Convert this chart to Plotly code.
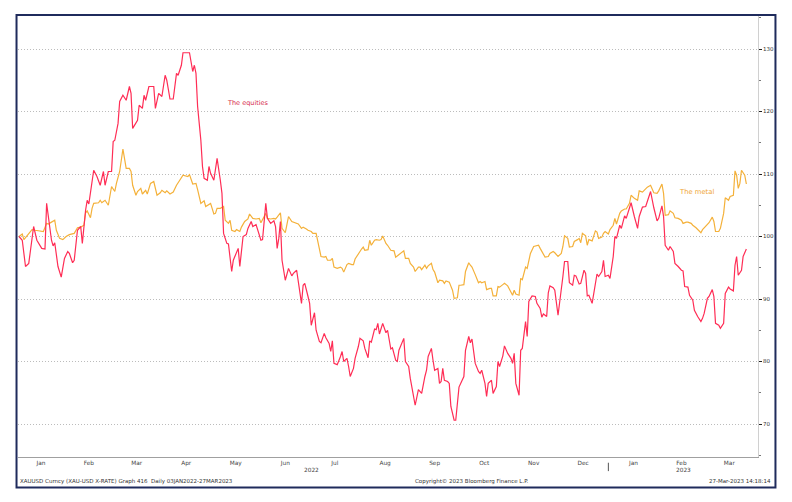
import plotly.graph_objects as go

# ---------------- data (rebased to 100 on 03-Jan-2022) ----------------
eq_dates = [
 "2022-01-03","2022-01-05","2022-01-07","2022-01-09","2022-01-12","2022-01-14","2022-01-17","2022-01-19","2022-01-20","2022-01-21",
 "2022-01-23","2022-01-24","2022-01-25","2022-01-27","2022-01-29","2022-01-31","2022-02-02","2022-02-03","2022-02-05","2022-02-06",
 "2022-02-08","2022-02-10","2022-02-11","2022-02-13","2022-02-14","2022-02-15","2022-02-17","2022-02-18","2022-02-20","2022-02-22",
 "2022-02-24","2022-02-25","2022-02-27","2022-03-01","2022-03-02","2022-03-03","2022-03-05","2022-03-06","2022-03-08","2022-03-10",
 "2022-03-12","2022-03-13","2022-03-14","2022-03-16","2022-03-17","2022-03-18","2022-03-20","2022-03-21","2022-03-22","2022-03-24",
 "2022-03-27","2022-03-28","2022-03-30","2022-04-01","2022-04-03","2022-04-04","2022-04-06","2022-04-08","2022-04-10","2022-04-11",
 "2022-04-13","2022-04-14","2022-04-18","2022-04-20","2022-04-21","2022-04-22","2022-04-23","2022-04-25","2022-04-26","2022-04-27",
 "2022-04-29","2022-04-30","2022-05-01","2022-05-03","2022-05-04","2022-05-05","2022-05-07","2022-05-08","2022-05-09","2022-05-11",
 "2022-05-12","2022-05-14","2022-05-15","2022-05-18","2022-05-19","2022-05-21","2022-05-23","2022-05-24","2022-05-26","2022-05-27",
 "2022-05-29","2022-05-30","2022-06-01","2022-06-02","2022-06-04","2022-06-05","2022-06-07","2022-06-09","2022-06-10","2022-06-11",
 "2022-06-12","2022-06-13","2022-06-14","2022-06-16","2022-06-17","2022-06-18","2022-06-20","2022-06-21","2022-06-23","2022-06-24",
 "2022-06-26","2022-06-27","2022-06-28","2022-06-30","2022-07-01","2022-07-02","2022-07-04","2022-07-05","2022-07-07","2022-07-08",
 "2022-07-10","2022-07-11","2022-07-13","2022-07-14","2022-07-15","2022-07-16","2022-07-18","2022-07-20","2022-07-21","2022-07-22",
 "2022-07-24","2022-07-25","2022-07-26","2022-07-28","2022-07-29","2022-07-31","2022-08-01","2022-08-03","2022-08-04","2022-08-06",
 "2022-08-07","2022-08-08","2022-08-10","2022-08-11","2022-08-12","2022-08-13","2022-08-15","2022-08-17","2022-08-18","2022-08-20",
 "2022-08-21","2022-08-23","2022-08-24","2022-08-25","2022-08-27","2022-08-28","2022-08-29","2022-08-31","2022-09-01","2022-09-02",
 "2022-09-04","2022-09-06","2022-09-07","2022-09-08","2022-09-10","2022-09-11","2022-09-12","2022-09-14","2022-09-15","2022-09-16",
 "2022-09-18","2022-09-19","2022-09-20","2022-09-21","2022-09-22","2022-09-24","2022-09-25","2022-09-26","2022-09-28","2022-09-29",
 "2022-10-01","2022-10-02","2022-10-04","2022-10-05","2022-10-07","2022-10-08","2022-10-09","2022-10-11","2022-10-13","2022-10-14",
 "2022-10-15","2022-10-17","2022-10-18","2022-10-19","2022-10-21","2022-10-22","2022-10-24","2022-10-25","2022-10-26","2022-10-28",
 "2022-10-29","2022-10-31","2022-11-02","2022-11-03","2022-11-04","2022-11-05","2022-11-07","2022-11-08","2022-11-09","2022-11-11",
 "2022-11-12","2022-11-13","2022-11-15","2022-11-17","2022-11-18","2022-11-20","2022-11-21","2022-11-22","2022-11-24","2022-11-25",
 "2022-11-26","2022-11-28","2022-11-29","2022-12-01","2022-12-03","2022-12-04","2022-12-05","2022-12-07","2022-12-08","2022-12-10",
 "2022-12-11","2022-12-12","2022-12-14","2022-12-15","2022-12-17","2022-12-18","2022-12-19","2022-12-20","2022-12-22","2022-12-24",
 "2022-12-25","2022-12-26","2022-12-28","2022-12-29","2022-12-30","2023-01-01","2023-01-02","2023-01-04","2023-01-05","2023-01-06",
 "2023-01-08","2023-01-09","2023-01-11","2023-01-12","2023-01-14","2023-01-15","2023-01-17","2023-01-19","2023-01-20","2023-01-22",
 "2023-01-24","2023-01-25","2023-01-27","2023-01-29","2023-01-31","2023-02-01","2023-02-03","2023-02-04","2023-02-05","2023-02-07",
 "2023-02-08","2023-02-10","2023-02-11","2023-02-13","2023-02-15","2023-02-16","2023-02-17","2023-02-19","2023-02-20","2023-02-22",
 "2023-02-23","2023-02-25","2023-02-27","2023-02-28","2023-03-01","2023-03-03","2023-03-04","2023-03-06","2023-03-07","2023-03-08",
 "2023-03-10","2023-03-11","2023-03-13","2023-03-14","2023-03-16","2023-03-17","2023-03-19","2023-03-20","2023-03-21","2023-03-22",
 "2023-03-24","2023-03-25","2023-03-27",
]
eq_values = [
 100.0,99.4,95.2,95.7,101.6,99.4,98.1,98.0,105.3,103.2,
 99.4,98.5,99.0,95.2,93.5,96.5,97.6,97.3,95.8,96.2,
 101.0,101.6,98.9,104.2,105.8,105.2,108.5,110.6,109.6,108.2,
 110.4,108.2,110.4,110.4,115.2,115.4,118.1,121.6,122.6,121.8,
 124.0,122.9,117.3,118.1,118.6,121.0,120.5,122.6,121.8,124.0,
 124.0,120.5,122.9,122.4,125.8,125.0,122.0,122.0,126.1,125.8,
 127.4,129.4,129.4,126.4,127.4,126.1,120.8,115.4,111.2,109.3,
 109.0,111.2,110.1,109.0,110.6,112.5,109.0,106.9,100.5,98.9,
 98.8,94.4,96.2,98.1,95.2,100.0,100.3,101.3,102.4,101.6,
 101.9,101.1,99.4,99.5,105.3,102.9,102.1,102.5,101.6,98.1,
 99.7,102.4,96.2,93.0,94.1,94.9,93.7,94.1,94.6,92.8,
 89.3,92.2,92.5,90.4,89.3,85.8,87.8,85.0,83.2,83.0,
 84.5,83.8,82.9,81.6,83.3,79.7,79.5,80.8,81.6,80.0,
 80.5,79.2,77.6,78.9,80.5,82.4,83.7,83.3,82.1,80.6,
 83.3,83.1,85.2,85.1,86.1,84.4,86.1,84.6,85.0,82.0,
 82.2,80.2,80.0,81.8,83.0,83.7,80.0,79.2,77.3,75.7,
 73.0,75.5,75.2,74.9,77.6,78.6,80.8,82.1,80.2,78.6,
 78.9,76.5,76.8,78.9,77.0,76.8,76.5,72.8,70.6,70.6,
 75.9,76.5,77.6,81.8,84.0,83.0,83.6,79.7,78.4,78.1,
 78.6,76.5,74.4,76.5,77.0,74.9,76.0,80.0,79.2,80.9,
 82.5,81.3,80.5,79.7,81.3,76.5,74.6,81.8,82.1,86.4,
 84.0,89.6,90.5,90.4,89.3,88.5,87.1,87.6,87.2,91.0,
 92.1,91.8,91.4,87.4,91.2,93.6,96.0,96.0,92.6,92.2,
 93.8,93.7,92.4,92.5,94.6,94.1,90.5,90.6,89.3,93.0,
 94.0,93.6,94.4,96.2,93.6,93.8,93.3,96.8,100.0,99.7,
 101.8,101.3,103.3,102.9,104.6,105.4,103.2,101.3,103.2,104.7,
 104.8,105.5,107.2,104.6,102.5,102.9,104.9,103.2,98.6,97.8,
 98.4,97.6,95.7,95.2,94.6,94.5,92.0,91.9,90.6,89.8,
 88.2,87.2,86.4,86.9,87.7,90.1,90.4,91.5,90.4,86.1,
 85.8,85.3,86.1,90.9,91.9,91.6,91.3,95.4,96.8,93.8,
 94.6,96.8,98.0,
]

metal_dates = [
 "2022-01-03","2022-01-05","2022-01-06","2022-01-08","2022-01-11","2022-01-13","2022-01-15","2022-01-18","2022-01-20","2022-01-21",
 "2022-01-23","2022-01-25","2022-01-26","2022-01-28","2022-01-30","2022-02-01","2022-02-03","2022-02-06","2022-02-08","2022-02-10",
 "2022-02-12","2022-02-13","2022-02-14","2022-02-16","2022-02-17","2022-02-18","2022-02-21","2022-02-22","2022-02-23","2022-02-25",
 "2022-02-27","2022-02-28","2022-03-01","2022-03-03","2022-03-04","2022-03-06","2022-03-08","2022-03-10","2022-03-12","2022-03-13",
 "2022-03-14","2022-03-16","2022-03-17","2022-03-19","2022-03-20","2022-03-22","2022-03-23","2022-03-25","2022-03-27","2022-03-29",
 "2022-03-31","2022-04-01","2022-04-03","2022-04-04","2022-04-06","2022-04-08","2022-04-10","2022-04-12","2022-04-14","2022-04-17",
 "2022-04-18","2022-04-20","2022-04-22","2022-04-23","2022-04-25","2022-04-27","2022-04-28","2022-05-01","2022-05-03","2022-05-04",
 "2022-05-05","2022-05-07","2022-05-09","2022-05-10","2022-05-12","2022-05-13","2022-05-14","2022-05-16","2022-05-17","2022-05-19",
 "2022-05-20","2022-05-22","2022-05-24","2022-05-25","2022-05-27","2022-05-29","2022-05-31","2022-06-01","2022-06-04","2022-06-05",
 "2022-06-07","2022-06-09","2022-06-10","2022-06-11","2022-06-13","2022-06-14","2022-06-16","2022-06-17","2022-06-18","2022-06-20",
 "2022-06-21","2022-06-23","2022-06-24","2022-06-26","2022-06-27","2022-06-29","2022-06-30","2022-07-02","2022-07-03","2022-07-05",
 "2022-07-06","2022-07-08","2022-07-10","2022-07-11","2022-07-12","2022-07-14","2022-07-15","2022-07-16","2022-07-18","2022-07-20",
 "2022-07-21","2022-07-22","2022-07-24","2022-07-25","2022-07-27","2022-07-28","2022-07-29","2022-07-31","2022-08-02","2022-08-03",
 "2022-08-04","2022-08-06","2022-08-07","2022-08-08","2022-08-10","2022-08-11","2022-08-13","2022-08-14","2022-08-15","2022-08-17",
 "2022-08-18","2022-08-20","2022-08-22","2022-08-23","2022-08-25","2022-08-26","2022-08-28","2022-08-29","2022-08-31","2022-09-01",
 "2022-09-03","2022-09-04","2022-09-06","2022-09-07","2022-09-08","2022-09-10","2022-09-11","2022-09-12","2022-09-14","2022-09-15",
 "2022-09-16","2022-09-18","2022-09-19","2022-09-21","2022-09-22","2022-09-23","2022-09-25","2022-09-27","2022-09-28","2022-09-30",
 "2022-10-01","2022-10-02","2022-10-04","2022-10-05","2022-10-07","2022-10-08","2022-10-09","2022-10-11","2022-10-13","2022-10-14",
 "2022-10-15","2022-10-17","2022-10-18","2022-10-20","2022-10-21","2022-10-22","2022-10-24","2022-10-25","2022-10-26","2022-10-28",
 "2022-10-29","2022-10-31","2022-11-02","2022-11-03","2022-11-04","2022-11-05","2022-11-07","2022-11-08","2022-11-09","2022-11-11",
 "2022-11-12","2022-11-14","2022-11-16","2022-11-17","2022-11-19","2022-11-20","2022-11-22","2022-11-23","2022-11-25","2022-11-26",
 "2022-11-28","2022-11-29","2022-12-01","2022-12-03","2022-12-04","2022-12-05","2022-12-07","2022-12-08","2022-12-10","2022-12-11",
 "2022-12-13","2022-12-14","2022-12-15","2022-12-16","2022-12-18","2022-12-19","2022-12-20","2022-12-22","2022-12-24","2022-12-25",
 "2022-12-26","2022-12-28","2022-12-29","2022-12-30","2023-01-01","2023-01-02","2023-01-04","2023-01-05","2023-01-06","2023-01-08",
 "2023-01-09","2023-01-11","2023-01-12","2023-01-14","2023-01-15","2023-01-17","2023-01-19","2023-01-20","2023-01-22","2023-01-24",
 "2023-01-25","2023-01-27","2023-01-29","2023-01-31","2023-02-01","2023-02-03","2023-02-04","2023-02-05","2023-02-07","2023-02-08",
 "2023-02-10","2023-02-11","2023-02-13","2023-02-15","2023-02-16","2023-02-18","2023-02-19","2023-02-21","2023-02-22","2023-02-24",
 "2023-02-25","2023-02-27","2023-02-28","2023-03-01","2023-03-03","2023-03-04","2023-03-06","2023-03-07","2023-03-08","2023-03-10",
 "2023-03-11","2023-03-13","2023-03-14","2023-03-16","2023-03-17","2023-03-19","2023-03-20","2023-03-21","2023-03-22","2023-03-23",
 "2023-03-24","2023-03-26","2023-03-27",
]
metal_values = [
 100.0,100.4,99.5,100.1,101.1,101.0,100.9,100.8,102.1,102.0,
 102.3,102.6,101.0,99.7,99.5,100.0,100.3,100.5,101.4,101.5,
 101.8,103.8,104.1,103.0,104.5,105.3,105.4,105.8,105.4,105.8,
 105.0,106.4,108.0,107.2,108.5,110.4,114.0,110.9,110.9,110.4,
 108.2,106.6,107.2,107.7,106.8,107.4,106.8,108.5,108.8,106.6,
 107.0,107.4,107.0,107.3,106.8,107.1,108.2,109.0,109.8,109.6,
 109.9,108.4,108.5,107.5,105.3,105.7,104.8,105.3,103.6,103.7,
 104.5,104.5,104.8,102.6,102.1,102.6,101.0,100.8,101.1,100.8,
 101.5,102.4,102.8,103.6,102.9,102.8,102.9,102.2,103.7,102.9,
 102.8,102.9,102.8,103.1,103.8,101.3,100.6,101.9,103.2,102.4,
 102.3,102.1,102.0,101.3,101.5,101.2,101.0,100.8,100.5,100.5,
 99.4,96.8,96.7,96.8,96.2,96.2,96.5,95.1,94.9,95.1,
 94.9,94.3,95.5,95.7,95.5,95.5,96.4,97.3,98.0,98.3,
 97.8,97.9,99.4,98.6,99.4,99.5,99.4,99.5,100.1,98.9,
 98.6,97.8,97.7,96.7,97.1,97.4,97.7,96.5,96.5,95.7,
 95.1,94.4,95.1,95.1,94.7,95.4,94.9,95.3,95.7,94.7,
 94.3,92.6,93.0,92.9,92.5,92.9,92.7,91.4,90.1,90.2,
 92.2,92.2,92.3,94.4,95.8,95.4,95.1,93.9,92.6,92.8,
 92.6,92.8,91.5,91.7,91.7,90.5,90.5,92.0,91.9,92.3,
 92.5,92.1,91.2,90.6,91.4,90.8,90.6,93.3,93.1,95.1,
 94.9,97.3,98.4,98.5,98.6,98.1,97.3,96.7,96.8,97.3,
 97.6,97.4,96.8,97.3,98.4,100.1,99.7,98.3,98.4,99.2,
 99.5,99.7,99.0,100.5,100.1,98.6,99.5,99.3,100.9,100.7,
 99.7,99.9,100.5,100.8,100.4,101.1,101.8,102.9,102.0,103.7,
 104.1,104.4,104.4,105.3,106.6,106.1,105.8,107.3,107.1,107.6,
 107.9,108.2,107.0,106.9,107.3,108.4,106.9,103.4,103.5,104.1,
 103.7,103.0,102.9,102.6,102.1,102.3,102.3,102.1,101.8,101.4,
 101.1,100.6,101.1,101.4,102.0,102.2,103.1,102.4,100.8,100.8,
 101.3,103.7,106.2,105.8,106.4,106.6,110.5,109.8,107.7,108.5,
 110.6,109.8,108.4,
]

y_ticks = [70, 80, 90, 100, 110, 120, 130]
series_names = ["The equities", "The metal"]
footer_left = "XAUUSD Curncy (XAU-USD X-RATE) Graph 416  Daily 03JAN2022-27MAR2023"
footer_mid = "Copyright\u00a9 2023 Bloomberg Finance L.P."
footer_right = "27-Mar-2023 14:18:14"
year_labels = [("2022-07-02", "2022"), ("2023-02-16", "2023")]

# ---------------- styling ----------------
RED = "#ff2d55"
GOLD = "#f4b13a"
FONT = "DejaVu Sans"

fig = go.Figure()
fig.add_trace(go.Scatter(x=metal_dates, y=metal_values, mode="lines", name=series_names[1],
                         line=dict(color=GOLD, width=1.2), hoverinfo="skip"))
fig.add_trace(go.Scatter(x=eq_dates, y=eq_values, mode="lines", name=series_names[0],
                         line=dict(color=RED, width=1.2), hoverinfo="skip"))

fig.update_layout(
    width=792, height=502,
    margin=dict(l=18, r=34, t=16, b=45),
    paper_bgcolor="white", plot_bgcolor="white",
    showlegend=False,
    font=dict(family=FONT, size=6, color="#444"),
    xaxis=dict(
        type="date",
        range=["2022-01-02 09:00", "2023-04-03 04:00"],
        dtick="M1", tick0="2022-01-01",
        ticklabelmode="period", tickformat="%b",
        ticks="", ticklen=0,
        minor=dict(dtick="M1", tick0="2022-01-01", ticks="outside", ticklen=3,
                   tickcolor="#333", tickwidth=1, showgrid=False),
        showline=True, linecolor="#a0a0a0", linewidth=1,
        showgrid=False, zeroline=False,
        tickfont=dict(family=FONT, size=5.8, color="#444"),
    ),
    yaxis=dict(
        side="right",
        range=[64.72, 135.28],
        tickvals=y_ticks,
        ticks="outside", ticklen=3, tickcolor="#222", tickwidth=1,
        showline=True, linecolor="#d0d0d0", linewidth=1,
        showgrid=True, gridcolor="#bcbcbc", griddash="1px,2px", gridwidth=1,
        zeroline=False,
        minor=dict(dtick=5, tick0=0, ticks="outside", ticklen=2, tickcolor="#777", showgrid=False),
        tickfont=dict(family=FONT, size=5.5, color="#333"),
    ),
)

# series labels
fig.add_annotation(x="2022-05-24", y=121.3, xref="x", yref="y", text=series_names[0],
                   showarrow=False, font=dict(family=FONT, size=6.5, color="#d62848"))
fig.add_annotation(x="2023-02-24", y=107.1, xref="x", yref="y", text=series_names[1],
                   showarrow=False, font=dict(family=FONT, size=6.8, color="#f0a632"))

# year labels under the month labels
for d, t in year_labels:
    fig.add_annotation(x=d, y=-0.029, xref="x", yref="paper", text=t, showarrow=False,
                       yanchor="middle", font=dict(family=FONT, size=5.8, color="#444"))

# year separator below axis
fig.add_shape(type="line", xref="x", yref="paper", x0="2023-01-01", x1="2023-01-01",
              y0=-0.013, y1=-0.032, line=dict(color="#555", width=1))

# footer
fig.add_annotation(x=0.0, y=-0.0545, xref="paper", yref="paper", text=footer_left, showarrow=False,
                   xanchor="left", yanchor="middle", font=dict(family=FONT, size=5.5, color="#333"))
fig.add_annotation(x=0.534, y=-0.0545, xref="paper", yref="paper", text=footer_mid, showarrow=False,
                   xanchor="left", yanchor="middle", font=dict(family=FONT, size=5.5, color="#333"))
fig.add_annotation(x=1.0203, y=-0.0545, xref="paper", yref="paper", text=footer_right, showarrow=False,
                   xanchor="right", yanchor="middle", font=dict(family=FONT, size=5.5, color="#333"))

# navy outer frame
fig.add_shape(type="rect", xref="paper", yref="paper", x0=-0.002, x1=1.0236, y0=-0.0692, y1=1.0023,
              line=dict(color="#1f2b5c", width=2), fillcolor="rgba(0,0,0,0)", layer="above")

fig.write_html("out.html", config={"displayModeBar": False},
               post_script="document.body.style.margin='0px';")
